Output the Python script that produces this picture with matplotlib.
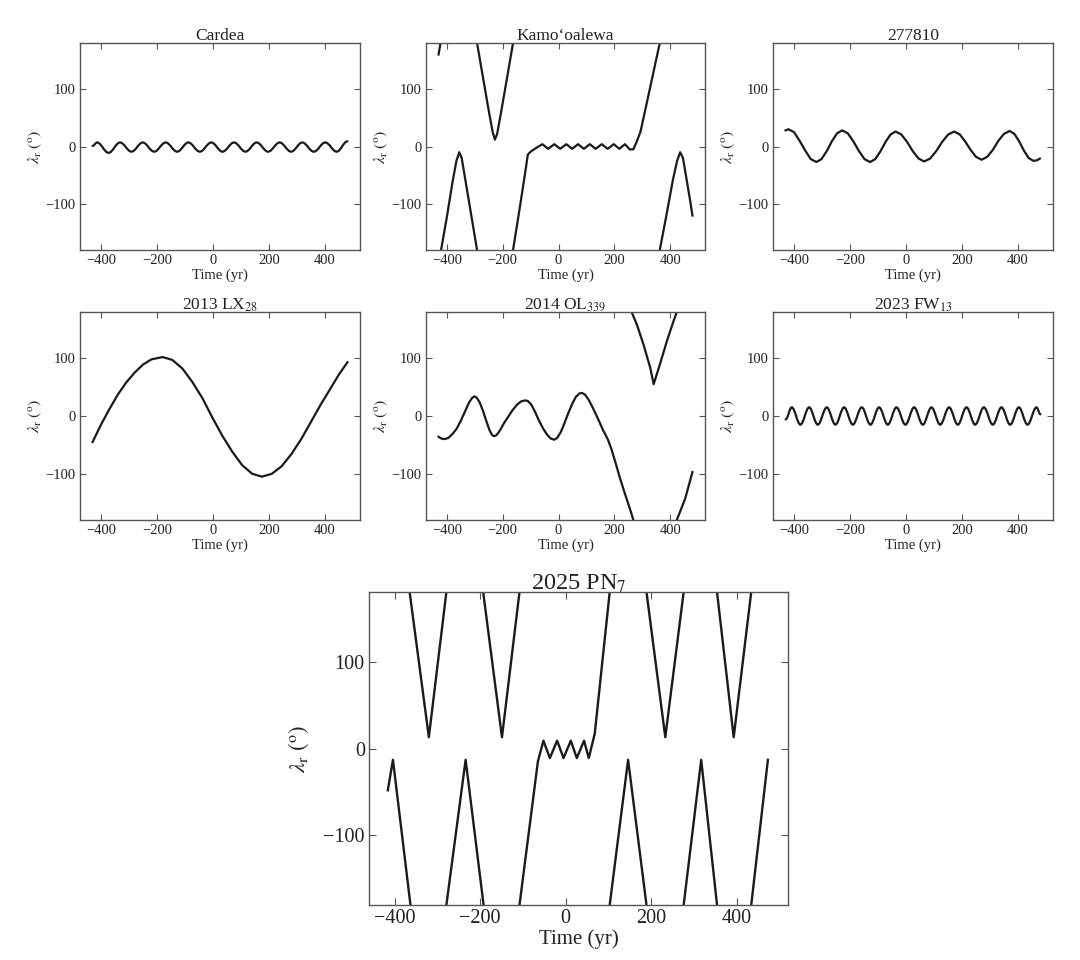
import numpy as np
import matplotlib
matplotlib.use("Agg")
import matplotlib.pyplot as plt
from matplotlib.path import Path
from matplotlib.patches import PathPatch

plt.rcParams['font.family'] = ['Liberation Serif', 'DejaVu Serif']
plt.rcParams['mathtext.fontset'] = 'stix'

nan = float('nan')

# ---- data (time in yr, resonant angle in deg) ----
cardea_t = [-430, -414, -373, -332, -291, -251, -210, -169, -128, -88, -47, -6,
            34, 75, 116, 156, 197, 238, 279, 319, 360, 401, 442, 480]
cardea_lam = [1, 7, -11, 7, -9, 7, -9, 7, -9, 7, -9, 7,
              -9, 7, -9, 7, -9, 7, -9, 7, -9, 7, -9, 9]

kamo_t = [-430, -423, nan,
          -421, -400, -380, -366, -356, -347, -335, -315, -292, nan,
          -292, -270, -250, -236, -228, -220, -205, -185, -163, nan,
          -163, -140, -120, -110, -100, -88, -75, -58, -37, -15, 6, 28, 49, 70, 91,
          112, 133, 155, 176, 198, 218, 238, 255, 268, 280, 294, 320, 345, 363, nan,
          363, 385, 410, 425, 436, 446, 460, 472, 480]
kamo_lam = [160, 180, nan,
            -180, -122, -62, -25, -10, -20, -55, -113, -180, nan,
            180, 118, 62, 25, 12, 22, 62, 118, 180, nan,
            -180, -110, -47, -14, -9, -5, -1, 4, -4, 4, -4, 4, -4, 4, -4,
            4, -4, 4, -4, 4, -4, 4, -5, -5, 8, 26, 84, 140, 180, nan,
            -180, -124, -58, -25, -10, -20, -60, -95, -120]

ast277810_t = [-430, -420, -400, -380, -360, -340, -320, -302, -283, -265, -246, -228,
               -208, -188, -168, -148, -128, -110, -92, -73, -55, -37, -17, 4, 24, 45, 65,
               86, 108, 129, 151, 172, 192, 211, 231, 250, 270, 290, 310, 330, 350, 370,
               387, 404, 421, 438, 455, 468, 478]
ast277810_lam = [28, 30, 25, 10, -7, -22, -27, -22, -8, 9, 23, 28,
                 23, 9, -8, -22, -27, -22, -9, 8, 21, 26, 21, 8, -8, -21, -26,
                 -21, -8, 8, 21, 26, 21, 9, -6, -18, -23, -18, -6, 10, 22, 27,
                 22, 9, -7, -20, -25, -24, -21]

lx28_t = [-430, -400, -370, -340, -310, -280, -250, -220, -180, -145, -109, -74, -38, -3,
          33, 69, 104, 140, 175, 210, 245, 280, 315, 350, 385, 420, 450, 480]
lx28_lam = [-45, -15, 12, 37, 58, 75, 89, 98, 102, 97, 82, 59, 31, -2,
            -34, -62, -85, -100, -105, -100, -87, -66, -40, -10, 20, 48, 72, 93]

ol339_t = [-430, -420, -409, -395, -380, -365, -350, -335, -320, -310, -302, -294, -283,
           -270, -258, -247, -238, -230, -222, -210, -195, -180, -165, -150, -135, -120,
           -110, -98, -85, -70, -55, -40, -28, -15, -5, 8, 20, 35, 50, 62, 75, 84, 95,
           108, 120, 135, 150, 160, 168, 178, 190, 205, 220, 235, 250, 262, 268, nan,
           262, 281, 305, 329, 341, 365, 388, 412, 424, nan,
           424, 454, 480]
ol339_lam = [-36, -39, -40, -38, -31, -22, -8, 8, 24, 31, 34, 32, 24,
             8, -10, -25, -33, -35, -33, -25, -12, -1, 10, 19, 25, 27,
             26, 20, 8, -8, -22, -33, -39, -41, -38, -28, -14, 5, 22, 33, 39, 40, 37,
             28, 17, 2, -14, -25, -32, -42, -58, -82, -107, -130, -152, -170, -180, nan,
             180, 158, 123, 83, 55, 92, 129, 164, 180, nan,
             -180, -143, -97]

fw13_t = [-430, -408, -377, -346, -315, -283, -252, -221, -190, -158, -127, -96, -65,
          -34, -2, 29, 60, 91, 122, 154, 185, 216, 247, 278, 310, 341, 372, 403, 434,
          466, 480]
fw13_lam = [-6, 15, -15, 15, -15, 15, -15, 15, -15, 15, -15, 15, -15,
            15, -15, 15, -15, 15, -15, 15, -15, 15, -15, 15, -15, 15, -15, 15, -15,
            15, 3]

pn7_t = [-416, -404, -363, nan,
         -365, -320, -279, nan,
         -279, -234, -192, nan,
         -193, -149, -108, nan,
         -108, -65, -52, -37, -20, -5, 12, 26, 43, 54, 62, 68, 103, nan,
         103, 146, 189, nan,
         189, 233, 276, nan,
         276, 317, 354, nan,
         354, 393, 434, nan,
         434, 473]
pn7_lam = [-48, -13, -180, nan,
           180, 13, 180, nan,
           -180, -13, -180, nan,
           180, 13, 180, nan,
           -180, -15, 9, -11, 9, -11, 9, -11, 9, -11, 5, 17, 180, nan,
           -180, -13, -180, nan,
           180, 13, 180, nan,
           -180, -13, -180, nan,
           180, 13, 180, nan,
           -180, -13]

LINE = '#1a1a1a'
SPINE = '#555555'


def smooth_curve(ax, t, lam, lw):
    # cubic pieces with flat tangents at each turning point
    verts = [(t[0], lam[0])]
    codes = [Path.MOVETO]
    for i in range(1, len(t)):
        d = (t[i] - t[i - 1]) * 0.36
        verts += [(t[i - 1] + d, lam[i - 1]), (t[i] - d, lam[i]), (t[i], lam[i])]
        codes += [Path.CURVE4] * 3
    ax.add_patch(PathPatch(Path(verts, codes), fill=False, edgecolor=LINE,
                           lw=lw, capstyle='round', joinstyle='round'))


def style_axes(ax, title, xlim, big=False):
    tick_fs = 14.5 if big else 10.5
    lab_fs = 15 if big else 10.5
    ax.set_xlim(*xlim)
    ax.set_ylim(-180, 180)
    ax.set_xticks([-400, -200, 0, 200, 400])
    ax.set_yticks([-100, 0, 100])
    ax.set_xticklabels(['\u2212400', '\u2212200', '0', '200', '400'])
    ax.set_yticklabels(['\u2212100', '0', '100'])
    ax.tick_params(direction='in', top=True, right=True, length=5 if big else 4,
                   width=0.8, color=SPINE, labelsize=tick_fs, labelcolor='#222222',
                   pad=3)
    for s in ax.spines.values():
        s.set_color(SPINE)
        s.set_linewidth(1.0)
    ax.set_xlabel('Time (yr)', fontsize=lab_fs, color='#222222', labelpad=1)
    ax.set_ylabel(r'$\lambda_{\rm r}\ (^{\rm o})$', fontsize=16.5 if big else 11.5,
                  color='#222222', labelpad=9 if big else 1)
    ax.set_title(title, fontsize=17.5 if big else 12.5, color='#222222', pad=2)


W, H = 1080, 960
fig = plt.figure(figsize=(W / 100, H / 100), dpi=100)


def box(l, r, top, bot):
    return [l / W, (H - bot) / H, (r - l) / W, (bot - top) / H]


small_xlim = (-475, 525)

ax1 = fig.add_axes(box(80, 360, 43, 250))
smooth_curve(ax1, cardea_t, cardea_lam, 1.6)
style_axes(ax1, 'Cardea', small_xlim)

ax2 = fig.add_axes(box(426, 705, 43, 250))
ax2.plot(kamo_t, kamo_lam, color=LINE, lw=1.6, solid_joinstyle='round')
style_axes(ax2, 'Kamo\u02BBoalewa', small_xlim)

ax3 = fig.add_axes(box(773, 1053, 43, 250))
ax3.plot(ast277810_t, ast277810_lam, color=LINE, lw=1.6, solid_joinstyle='round')
style_axes(ax3, '277810', small_xlim)

ax4 = fig.add_axes(box(80, 360, 312, 520))
ax4.plot(lx28_t, lx28_lam, color=LINE, lw=1.6, solid_joinstyle='round')
style_axes(ax4, r'2013 LX$_{28}$', small_xlim)

ax5 = fig.add_axes(box(426, 705, 312, 520))
ax5.plot(ol339_t, ol339_lam, color=LINE, lw=1.6, solid_joinstyle='round')
style_axes(ax5, r'2014 OL$_{339}$', small_xlim)

ax6 = fig.add_axes(box(773, 1053, 312, 520))
smooth_curve(ax6, fw13_t, fw13_lam, 1.6)
style_axes(ax6, r'2023 FW$_{13}$', small_xlim)

ax7 = fig.add_axes(box(369, 788, 592, 905))
ax7.plot(pn7_t, pn7_lam, color=LINE, lw=1.7, solid_joinstyle='round')
style_axes(ax7, r'2025 PN$_{7}$', (-460, 520), big=True)

fig.savefig('out.png', dpi=100)
